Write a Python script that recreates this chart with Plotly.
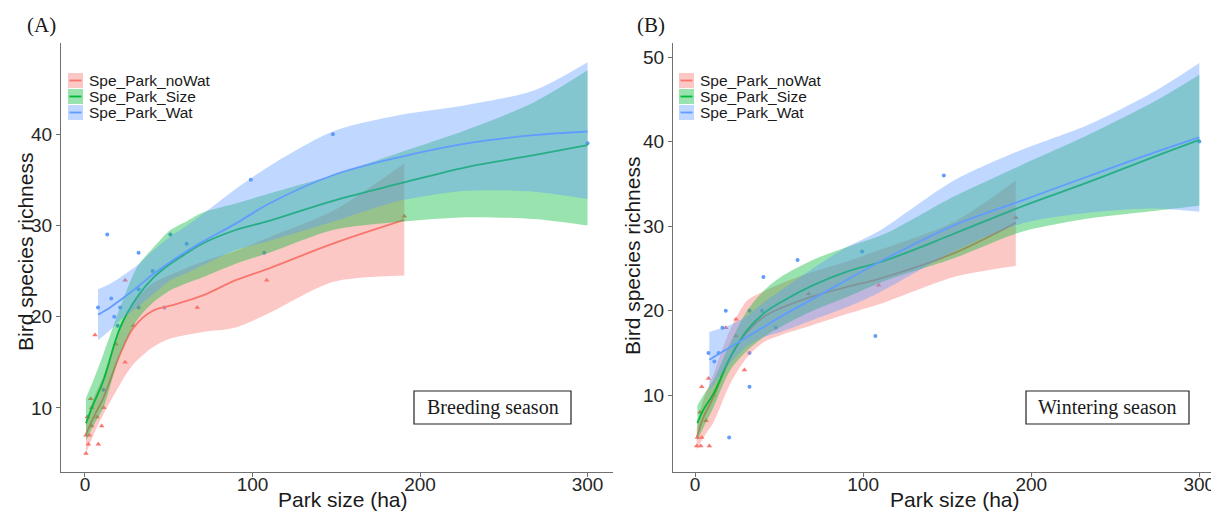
import plotly.graph_objects as go

# ---------------- data ----------------
# Panel A: Breeding season
A_red_pts_x = [0.6, 2, 8, 2.6, 0.6, 4, 10, 7.3, 1.4, 11.3, 4, 3.4, 24, 18.3, 28.9, 6, 24, 67, 108.5, 190.6]
A_red_pts_y = [5, 6, 6, 7, 7, 8, 8, 9, 9, 10, 10, 11, 15, 17, 19, 18, 24, 21, 24, 31]
A_blue_pts_x = [11, 19.5, 17.5, 7.8, 21, 32, 47.4, 15.7, 32, 40.4, 60.7, 32, 13.3, 51, 107, 99, 148, 300]
A_blue_pts_y = [12, 19, 20, 21, 21, 21, 21, 22, 23, 25, 28, 27, 29, 29, 27, 35, 40, 39]

A_red_x = [0.6, 5, 11, 21, 29, 40, 51, 70, 90, 110, 148, 190.6]
A_red_fit = [7.1, 8.9, 11.1, 15.9, 18.8, 20.6, 21.2, 22.3, 24.0, 25.3, 28.0, 30.6]
A_red_lo = [5.0, 7.0, 9.3, 12.6, 14.8, 16.6, 17.6, 18.3, 18.8, 20.4, 23.8, 24.5]
A_red_hi = [8.5, 11.0, 13.5, 18.8, 21.5, 23.6, 24.6, 26.0, 27.2, 28.7, 31.6, 36.8]

A_grn_x = [0.6, 5, 11, 21, 31, 41, 51, 61, 70, 90, 110, 148, 188, 228, 268, 300]
A_grn_fit = [8.3, 10.4, 13.0, 18.8, 22.1, 24.3, 25.8, 27.0, 28.0, 29.5, 30.5, 32.7, 34.6, 36.4, 37.7, 38.8]
A_grn_lo = [6.4, 8.0, 10.0, 15.9, 19.6, 21.6, 22.9, 23.7, 24.3, 25.8, 27.0, 29.5, 30.4, 30.9, 30.7, 30.0]
A_grn_hi = [11.1, 13.0, 15.9, 21.0, 25.4, 27.6, 29.5, 30.5, 31.4, 32.4, 33.5, 35.5, 38.0, 40.5, 43.5, 47.0]

A_blu_x = [7.8, 15, 21, 31, 41, 51, 61, 70, 90, 110, 148, 188, 228, 268, 300]
A_blu_fit = [20.2, 21.0, 21.8, 23.2, 24.7, 26.0, 27.2, 28.2, 30.2, 32.4, 35.5, 37.5, 39.0, 39.9, 40.3]
A_blu_lo = [17.4, 18.5, 19.6, 21.0, 22.5, 24.0, 24.8, 25.6, 27.3, 28.3, 30.4, 32.7, 33.8, 33.7, 32.9]
A_blu_hi = [23.0, 23.6, 24.3, 25.6, 27.3, 28.8, 30.0, 31.2, 34.0, 36.5, 40.3, 42.1, 43.2, 44.8, 47.9]

# Panel B: Wintering season
B_red_pts_x = [1, 3.4, 8.5, 4, 1.4, 6.6, 4, 8, 29.4, 24.3, 18.3, 24.4, 67.6, 109.3, 190.8, 3, 11]
B_red_pts_y = [4, 4, 4, 5, 5, 7, 11, 12, 13, 17, 18, 19, 22, 23, 31, 8, 10]
B_blue_pts_x = [20.3, 32.4, 11.5, 8, 14, 32.4, 16.3, 18.3, 32.4, 39.8, 48.1, 40.7, 61, 99.4, 107.3, 148, 300]
B_blue_pts_y = [5, 11, 14, 15, 15, 15, 18, 20, 20, 20, 18, 24, 26, 27, 17, 36, 40]

B_red_x = [1, 5, 11, 21, 31, 41, 51, 70, 90, 110, 154, 190.8]
B_red_fit = [5.0, 7.4, 9.8, 14.5, 17.5, 19.3, 20.3, 21.7, 22.8, 23.8, 26.8, 30.4]
B_red_lo = [3.6, 5.0, 6.8, 11.4, 14.5, 16.3, 17.1, 18.3, 19.6, 20.8, 24.0, 25.3]
B_red_hi = [6.2, 9.5, 12.5, 17.8, 21.2, 22.3, 23.2, 24.6, 25.8, 27.2, 30.5, 35.4]

B_grn_x = [1.4, 5, 11, 21, 31, 41, 51, 70, 90, 114, 154, 194, 234, 273, 300]
B_grn_fit = [6.7, 8.3, 10.2, 14.5, 17.7, 19.7, 21.0, 23.0, 24.6, 26.0, 29.1, 32.3, 35.2, 38.2, 40.2]
B_grn_lo = [4.7, 6.2, 8.6, 13.0, 15.3, 16.9, 18.1, 20.0, 21.6, 23.6, 26.2, 29.3, 30.9, 31.8, 32.4]
B_grn_hi = [8.8, 10.0, 11.8, 16.2, 20.0, 22.4, 24.0, 26.0, 27.5, 29.2, 33.5, 37.2, 40.8, 44.7, 47.9]

B_blu_x = [8.5, 21, 31, 41, 51, 70, 90, 110, 154, 194, 234, 273, 300]
B_blu_fit = [14.2, 15.7, 16.9, 18.1, 19.3, 21.4, 23.6, 25.8, 30.1, 33.0, 35.9, 38.7, 40.5]
B_blu_lo = [10.6, 13.8, 15.8, 16.9, 17.5, 18.9, 20.4, 22.2, 27.0, 30.3, 31.6, 32.1, 31.7]
B_blu_hi = [17.5, 18.3, 19.4, 21.0, 22.4, 25.0, 27.5, 29.5, 35.4, 39.0, 42.0, 45.9, 49.3]

series_names = ["Spe_Park_noWat", "Spe_Park_Size", "Spe_Park_Wat"]
x_ticks = [0, 100, 200, 300]
A_y_ticks = [10, 20, 30, 40]
B_y_ticks = [10, 20, 30, 40, 50]
panel_labels = ["(A)", "(B)"]
season_labels = ["Breeding season", "Wintering season"]

# ---------------- styling ----------------
# The page body has an 8px margin, so the figure is drawn 8px in from the top-left.
OFF = 8
W, H = 1219 - OFF, 516 - OFF
MT, MB = 43 - OFF, 516 - 472
RED, GRN, BLU = "#F8766D", "#00BA38", "#619CFF"
RED_F, GRN_F, BLU_F = "rgba(248,118,109,0.4)", "rgba(0,186,56,0.4)", "rgba(97,156,255,0.4)"
SANS = "Liberation Sans, Arial, sans-serif"
SERIF = "Liberation Serif, Times New Roman, serif"
AXC = "#707070"


def fx(x):  # screen px -> paper x
    return (x - OFF) / W


def fy(y):  # screen px -> paper y
    return 1 - (y - OFF - MT) / (H - MT - MB)


fig = go.Figure()


def add_panel(xa, ya, rpx, rpy, bpx, bpy, curves):
    fig.add_trace(go.Scatter(x=rpx, y=rpy, mode="markers", xaxis=xa, yaxis=ya,
                             marker=dict(symbol="triangle-up", size=5, color=RED),
                             showlegend=False))
    fig.add_trace(go.Scatter(x=bpx, y=bpy, mode="markers", xaxis=xa, yaxis=ya,
                             marker=dict(symbol="circle", size=4, color=BLU),
                             showlegend=False))
    for (xs, fit, lo, hi, lc, fc) in curves:
        fig.add_trace(go.Scatter(x=xs, y=lo, mode="lines", line=dict(width=0, shape="spline", smoothing=0.8),
                                 xaxis=xa, yaxis=ya, showlegend=False, hoverinfo="skip"))
        fig.add_trace(go.Scatter(x=xs, y=hi, mode="lines", fill="tonexty", fillcolor=fc,
                                 line=dict(width=0, shape="spline", smoothing=0.8),
                                 xaxis=xa, yaxis=ya, showlegend=False, hoverinfo="skip"))
        fig.add_trace(go.Scatter(x=xs, y=fit, mode="lines", line=dict(color=lc, width=1.8, shape="spline"),
                                 xaxis=xa, yaxis=ya, showlegend=False))


add_panel("x", "y", A_red_pts_x, A_red_pts_y, A_blue_pts_x, A_blue_pts_y, [
    (A_red_x, A_red_fit, A_red_lo, A_red_hi, RED, RED_F),
    (A_grn_x, A_grn_fit, A_grn_lo, A_grn_hi, GRN, GRN_F),
    (A_blu_x, A_blu_fit, A_blu_lo, A_blu_hi, BLU, BLU_F),
])
add_panel("x2", "y2", B_red_pts_x, B_red_pts_y, B_blue_pts_x, B_blue_pts_y, [
    (B_red_x, B_red_fit, B_red_lo, B_red_hi, RED, RED_F),
    (B_grn_x, B_grn_fit, B_grn_lo, B_grn_hi, GRN, GRN_F),
    (B_blu_x, B_blu_fit, B_blu_lo, B_blu_hi, BLU, BLU_F),
])

axis_common = dict(showgrid=False, zeroline=False, showline=True, linecolor=AXC, linewidth=1.3,
                   ticks="outside", ticklen=4, tickwidth=1, tickcolor=AXC,
                   tickfont=dict(family=SANS, size=19, color="#262626"), automargin=False)

fig.update_layout(
    width=W, height=H, paper_bgcolor="white", plot_bgcolor="white",
    margin=dict(l=0, r=0, t=MT, b=MB), showlegend=False,
    xaxis=dict(domain=[fx(61), fx(613)], range=[-14.3, 315.2], tickvals=x_ticks, anchor="y",
               ticklabelstandoff=-9, **axis_common),
    yaxis=dict(domain=[0, 1], range=[2.97, 50.0], tickvals=A_y_ticks, anchor="x", **axis_common),
    xaxis2=dict(domain=[fx(673), 1.0], range=[-13.1, 311.7], tickvals=x_ticks, anchor="y2",
                ticklabelstandoff=-9, **axis_common),
    yaxis2=dict(domain=[0, 1], range=[0.93, 51.66], tickvals=B_y_ticks, anchor="x2", **axis_common),
)

shapes = []
annotations = []

# legends (manual, ggplot style)
key_cols = [(RED_F, RED), (GRN_F, GRN), (BLU_F, BLU)]
rows = [(73, 88), (89, 104), (105, 120)]
for kx0 in (68, 679):
    for (fcol, lcol), (y0, y1), name in zip(key_cols, rows, series_names):
        shapes.append(dict(type="rect", xref="paper", yref="paper", x0=fx(kx0), x1=fx(kx0 + 15),
                           y0=fy(y1), y1=fy(y0), fillcolor=fcol, line=dict(width=0), layer="above"))
        shapes.append(dict(type="line", xref="paper", yref="paper", x0=fx(kx0 + 1.5), x1=fx(kx0 + 13.5),
                           y0=fy((y0 + y1) / 2), y1=fy((y0 + y1) / 2), line=dict(color=lcol, width=1.8),
                           layer="above"))
        annotations.append(dict(xref="paper", yref="paper", x=fx(kx0 + 19), y=fy((y0 + y1) / 2),
                                text=name, showarrow=False, xanchor="left", yanchor="middle",
                                font=dict(family=SANS, size=15.5, color="#1a1a1a")))

# axis titles
for cx in (343, 955):
    annotations.append(dict(xref="paper", yref="paper", x=fx(cx), y=fy(499), text="Park size (ha)",
                            showarrow=False, xanchor="center", yanchor="middle",
                            font=dict(family=SANS, size=21, color="#1a1a1a")))
for cx, cy in ((25, 252), (633, 256)):
    annotations.append(dict(xref="paper", yref="paper", x=fx(cx), y=fy(cy), text="Bird species richness",
                            showarrow=False, xanchor="center", yanchor="middle", textangle=-90,
                            font=dict(family=SANS, size=21, color="#1a1a1a")))

# panel labels
for (cx, lab) in zip((41, 651), panel_labels):
    annotations.append(dict(xref="paper", yref="paper", x=fx(cx), y=fy(25), text=lab,
                            showarrow=False, xanchor="center", yanchor="middle",
                            font=dict(family=SERIF, size=21, color="#1a1a1a")))

# season boxes
for (x0, x1, lab) in ((414, 571, season_labels[0]), (1026, 1189, season_labels[1])):
    shapes.append(dict(type="rect", xref="paper", yref="paper", x0=fx(x0), x1=fx(x1),
                       y0=fy(424), y1=fy(391), line=dict(color="#222", width=1.2), fillcolor="white",
                       layer="above"))
    annotations.append(dict(xref="paper", yref="paper", x=fx((x0 + x1) / 2), y=fy(407.5), text=lab,
                            showarrow=False, xanchor="center", yanchor="middle",
                            font=dict(family=SERIF, size=20, color="#1a1a1a")))

fig.update_layout(shapes=shapes, annotations=annotations)
fig.write_html("out.html")
